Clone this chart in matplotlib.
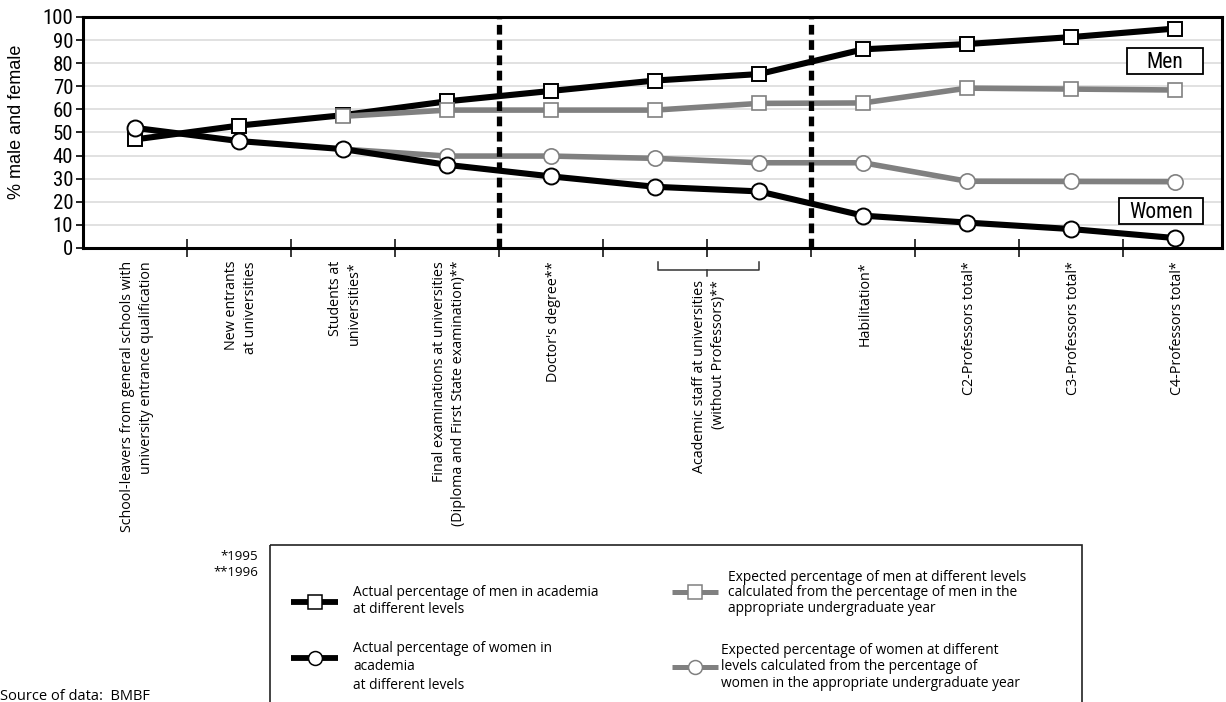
import matplotlib
matplotlib.use("Agg")
import matplotlib.pyplot as plt
import numpy as np
from matplotlib.transforms import blended_transform_factory
from matplotlib.patches import Rectangle
from matplotlib.lines import Line2D
from matplotlib import font_manager as fm

plt.rcParams['lines.scale_dashes'] = False

# ---------------- data ----------------
categories = [
    "School-leavers from general schools with\nuniversity entrance qualification",
    "New entrants\nat universities",
    "Students at\nuniversities*",
    "Final examinations at universities\n(Diploma and First State examination)**",
    "Doctor's degree**",
    "Academic staff at universities\n(without Professors)**",
    "Habilitation*",
    "C2-Professors total*",
    "C3-Professors total*",
    "C4-Professors total*",
]
category_pos = [0, 1, 2, 3, 4, 5.5, 7, 8, 9, 10]
stages = list(range(11))
men_actual = [47, 53, 57.5, 63.5, 68, 72.5, 75.3, 86, 88.3, 91.3, 95]
women_actual = [52, 46.3, 42.8, 36, 31, 26.5, 24.5, 14, 11, 8.2, 4.3]
men_expected = [np.nan, np.nan, 57, 59.7, 59.7, 59.7, 62.6, 62.8, 69.2, 68.8, 68.4]
women_expected = [np.nan, np.nan, 42.8, 39.8, 39.8, 38.8, 36.9, 36.9, 28.9, 28.8, 28.7]
yticks = list(range(0, 101, 10))
dividers = [0.5, 1.5, 2.5, 3.5, 4.5, 5.5, 6.5, 7.5, 8.5, 9.5]
phase_breaks = [3.5, 6.5]

legend_texts = [
    "Actual percentage of men in academia\nat different levels",
    "Actual percentage of women in\nacademia\nat different levels",
    "Expected percentage of men at different levels\ncalculated from the percentage of men in the\nappropriate undergraduate year",
    "Expected percentage of women at different\nlevels calculated from the percentage of\nwomen in the appropriate undergraduate year",
]

# ---------------- fonts ----------------
names = {f.name for f in fm.fontManager.ttflist}
NARROW = None
for cand in ['Liberation Sans Narrow', 'Arial Narrow', 'Roboto Condensed', 'DejaVu Sans Condensed',
             'Open Sans Condensed', 'Noto Sans Condensed']:
    if cand in names:
        NARROW = [cand, 'DejaVu Sans']
        NSTRETCH = 'normal'
        break
if NARROW is None:
    cond = [f.name for f in fm.fontManager.ttflist
            if str(f.stretch) in ('condensed', 'semi-condensed', '75', '87', 'narrow')
            and f.name in ('DejaVu Sans', 'Roboto', 'Noto Sans', 'Open Sans', 'Liberation Sans')]
    if cond:
        NARROW = [cond[0], 'DejaVu Sans']
        NSTRETCH = 'condensed'
NSCALE = 1.0
if NARROW is None:
    NARROW = ['Liberation Sans', 'DejaVu Sans']
    NSTRETCH = 'normal'
    NSCALE = 0.9
ARIAL = ['Liberation Sans', 'DejaVu Sans']
TEXTF = ['Open Sans', 'DejaVu Sans']

W, H = 1226, 702
fig = plt.figure(figsize=(W / 100, H / 100), dpi=100)
fig.patch.set_facecolor('white')

# overlay axes in pixel coordinates
ov = fig.add_axes([0, 0, 1, 1], zorder=-1)
ov.set_xlim(0, W)
ov.set_ylim(H, 0)
ov.axis('off')

ax = fig.add_axes([83 / W, 1 - 248 / H, (1222 - 83) / W, (248 - 17) / H])
ax.set_xlim(-0.5, 10.45)
ax.set_ylim(0, 100)

GRAY = '#808080'
ax.plot(stages, women_expected, color=GRAY, lw=4.0, marker='o', ms=11,
        mfc='white', mec=GRAY, mew=1.2, zorder=2, solid_joinstyle='round')
ax.plot(stages, men_actual, color='black', lw=4.4, marker='s', ms=10.5,
        mfc='white', mec='black', mew=1.4, zorder=3, solid_joinstyle='round')
ax.plot(stages, women_actual, color='black', lw=4.4, marker='o', ms=11.5,
        mfc='white', mec='black', mew=1.4, zorder=3, solid_joinstyle='round')
ax.plot(stages, men_expected, color=GRAY, lw=4.0, marker='s', ms=10.5,
        mfc='white', mec=GRAY, mew=1.2, zorder=4, solid_joinstyle='round')

for xb in phase_breaks:
    ax.axvline(xb, color='black', lw=3.8, dashes=(7, 4), zorder=5)

ax.set_yticks(yticks)
ax.yaxis.grid(True, color='#dedede', lw=1.3)
ax.set_axisbelow(True)
ax.tick_params(axis='y', direction='out', length=5, width=1.2, pad=2, labelsize=15 * NSCALE)
for lab in ax.get_yticklabels():
    lab.set_family(NARROW)
    lab.set_fontstretch(NSTRETCH)
ax.set_xticks([])
ax.set_xticks(dividers, minor=True)
ax.tick_params(axis='x', which='minor', direction='inout', length=13, width=1.1)
for s in ax.spines.values():
    s.set_linewidth(2.2)

# Men / Women boxes
for (x0, y0, x1, y1, t) in [(1127, 48, 1203, 74, 'Men'), (1119, 198, 1203, 224, 'Women')]:
    ov_r = Rectangle((x0, y0), x1 - x0, y1 - y0, fill=True, fc='white', ec='black', lw=1.3,
                     transform=ov.transData, zorder=10)
    fig.add_artist(ov_r)
    fig.text((x0 + x1) / 2 / W, 1 - ((y0 + y1) / 2 + 1) / H, t, ha='center', va='center',
             fontsize=15.5 * NSCALE, family=NARROW, fontstretch=NSTRETCH, zorder=11)

# y label
fig.text(17 / W, 1 - 122 / H, '% male and female', rotation=90, ha='center', va='center',
         fontsize=13, family=ARIAL)

# x category labels
bt = blended_transform_factory(ax.transData, ov.transData)
for lab, xp in zip(categories, category_pos):
    ytop = 280 if xp == 5.5 else 261
    ov.text(xp + 0.02, ytop, lab, transform=bt, rotation=90, ha='center', va='top',
            multialignment='right', fontsize=10.3, family=TEXTF, linespacing=1.35, clip_on=False)

# bracket for academic staff
ov.plot([5.03, 5.03, 6.0, 6.0], [262, 270, 270, 262], transform=bt, color='#333333', lw=1.1, clip_on=False)
ov.plot([5.5, 5.5], [270, 276], transform=bt, color='#333333', lw=1.1, clip_on=False)

# footnotes
ov.text(258, 557, '*1995', ha='right', va='center', fontsize=9.5, family=TEXTF)
ov.text(258, 573, '**1996', ha='right', va='center', fontsize=9.5, family=TEXTF)
ov.text(0, 696, 'Source of data:  BMBF', ha='left', va='center', fontsize=10.5, family=TEXTF)

# legend box
ov.add_patch(Rectangle((270, 545), 812, 200, fill=False, ec='#222222', lw=1.2, clip_on=False))

def sym(x0, x1, y, color, lw, marker, mec):
    ov.add_line(Line2D([x0, x1], [y, y], color=color, lw=lw, solid_capstyle='butt'))
    ov.add_line(Line2D([(x0 + x1) / 2], [y], marker=marker, ms=10, mfc='white', mec=mec, mew=1.1, lw=0))

sym(291, 338, 602, 'black', 4.2, 's', 'black')
sym(291, 338, 658, 'black', 4.2, 'o', 'black')
sym(672, 718, 592, GRAY, 3.6, 's', GRAY)
sym(672, 718, 667, GRAY, 3.6, 'o', GRAY)

ov.text(353, 601, legend_texts[0], ha='left', va='center', fontsize=9.9, family=TEXTF, linespacing=1.15)
ov.text(353, 667, legend_texts[1], ha='left', va='center', fontsize=9.9, family=TEXTF, linespacing=1.35)
ov.text(728, 593, legend_texts[2], ha='left', va='center', fontsize=9.9, family=TEXTF, linespacing=1.05)
ov.text(721, 667, legend_texts[3], ha='left', va='center', fontsize=9.9, family=TEXTF, linespacing=1.12)

fig.savefig('out.png', dpi=100)
